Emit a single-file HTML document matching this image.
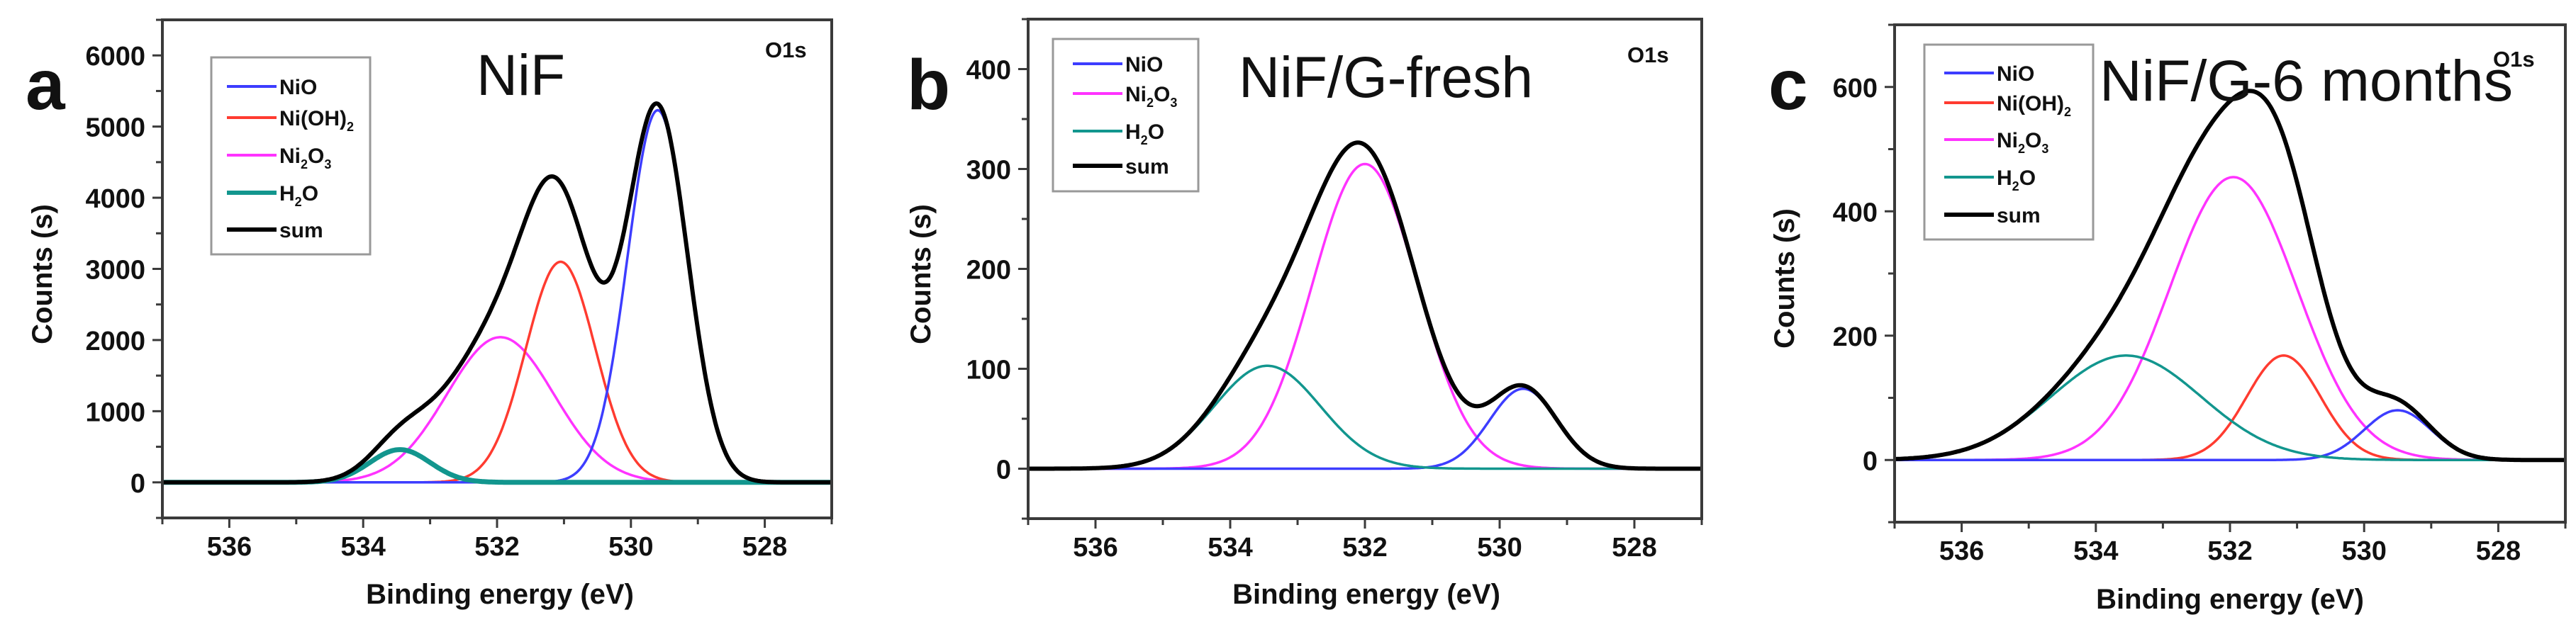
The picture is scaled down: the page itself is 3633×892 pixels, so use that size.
<!DOCTYPE html>
<html><head><meta charset="utf-8"><style>
html,body{margin:0;padding:0;background:#fff;}
svg{display:block;}
text{font-family:"Liberation Sans",Arial,sans-serif;}
</style></head>
<body>
<svg id="fig" width="3633" height="892" viewBox="0 0 3633 892" xmlns="http://www.w3.org/2000/svg"></svg>
<script>
// ---- data: fitted peak parameters (center eV, amplitude counts, sigma eV) ----
const xTicks = [536, 534, 532, 530, 528];
// Panel a (NiF)
const aNames = ["NiO", "Ni(OH)2", "Ni2O3", "H2O"];
const aCenters = [529.6, 531.05, 531.95, 533.45];
const aAmps = [5230, 3100, 2040, 460];
const aSigmas = [0.45, 0.52, 0.8, 0.45];
const aYTicks = [0, 1000, 2000, 3000, 4000, 5000, 6000];
// Panel b (NiF/G-fresh)
const bNames = ["NiO", "Ni2O3", "H2O"];
const bCenters = [529.65, 532.0, 533.45];
const bAmps = [80, 305, 103];
const bSigmas = [0.5, 0.78, 0.79];
const bYTicks = [0, 100, 200, 300, 400];
// Panel c (NiF/G-6 months)
const cNames = ["NiO", "Ni(OH)2", "Ni2O3", "H2O"];
const cCenters = [529.5, 531.2, 531.95, 533.55];
const cAmps = [80, 168, 455, 168];
const cSigmas = [0.5, 0.55, 0.95, 1.12];
const cYTicks = [0, 200, 400, 600];

const NS = "http://www.w3.org/2000/svg";
const svg = document.getElementById("fig");
const COLORS = {"NiO":"#3d3dff","Ni(OH)2":"#ff3b30","Ni2O3":"#ff33ff","H2O":"#12968e","sum":"#000"};
function mk(tag, attrs, parent){const e=document.createElementNS(NS,tag);for(const k in attrs)e.setAttribute(k,attrs[k]);(parent||svg).appendChild(e);return e;}
function label(parent,name,x,y,size,weight,anchor){
  const t=mk("text",{x:x,y:y,"font-size":size,"font-weight":weight,"text-anchor":anchor||"start",fill:"#111"},parent);
  if(name==="Ni2O3"){t.innerHTML='Ni<tspan font-size="'+size*0.6+'" dy="8">2</tspan><tspan dy="-8">O</tspan><tspan font-size="'+size*0.6+'" dy="8">3</tspan>';}
  else if(name==="Ni(OH)2"){t.innerHTML='Ni(OH)<tspan font-size="'+size*0.6+'" dy="8">2</tspan>';}
  else if(name==="H2O"){t.innerHTML='H<tspan font-size="'+size*0.6+'" dy="8">2</tspan><tspan dy="-8">O</tspan>';}
  else t.textContent=name;
  return t;
}
function panel(cfg){
  const g=mk("g",{});
  
  
  const {L,R,T,B,ymin,ymax}=cfg;
  const sx=v=>L+(537-v)/(537-527)*(R-L);
  const sy=v=>B-(v-ymin)/(ymax-ymin)*(B-T);
  const xs=[];for(let e=537;e>=527-1e-9;e-=0.02)xs.push(e);
  const comp=(i,e)=>cfg.amps[i]*Math.exp(-Math.pow(e-cfg.centers[i],2)/(2*cfg.sigmas[i]*cfg.sigmas[i]));
  const clip=mk("clipPath",{id:"clip"+cfg.id},g);mk("rect",{x:L,y:T,width:R-L,height:B-T},clip);
  const cg=mk("g",{"clip-path":"url(#clip"+cfg.id+")"},g);
  cfg.drawOrder.forEach(i=>{
    const d=xs.map((e,k)=>(k?"L":"M")+sx(e).toFixed(1)+" "+sy(comp(i,e)).toFixed(1)).join("");
    const p=mk("path",{d:d,fill:"none",stroke:COLORS[cfg.names[i]],"stroke-width":(cfg.id==="a"&&cfg.names[i]==="H2O")?7:3.5},cg);
    
    
  });
  const ds=xs.map((e,k)=>{let s=0;for(let i=0;i<cfg.names.length;i++)s+=comp(i,e);return (k?"L":"M")+sx(e).toFixed(1)+" "+sy(s).toFixed(1);}).join("");
  const ps=mk("path",{d:ds,fill:"none",stroke:"#000","stroke-width":6,"stroke-linejoin":"round"},cg);
  
  
  const fr=mk("rect",{x:L,y:T,width:R-L,height:B-T,fill:"none",stroke:"#3a3a3a","stroke-width":4},g);
  
  
  for(let e=537;e>=527;e--){
    const major=e%2===0;
    mk("line",{x1:sx(e),x2:sx(e),y1:B,y2:B+(major?14:9),stroke:"#3a3a3a","stroke-width":3},g);
  }
  xTicks.forEach(v=>{
    const t=mk("text",{x:sx(v),y:B+53,"font-size":38,"font-weight":"bold","text-anchor":"middle",fill:"#111"},g);
    t.textContent=v;
    
    
  });
  const st=cfg.yTicks[1]-cfg.yTicks[0];
  for(let v=ymin;v<=ymax+1e-9;v+=st/2){
    const major=Math.abs((v/st)-Math.round(v/st))<1e-6;
    mk("line",{x1:L,x2:L-(major?14:9),y1:sy(v),y2:sy(v),stroke:"#3a3a3a","stroke-width":3},g);
  }
  cfg.yTicks.forEach(v=>{
    const t=mk("text",{x:L-24,y:sy(v)+14,"font-size":38,"font-weight":"bold","text-anchor":"end",fill:"#111"},g);
    t.textContent=v;
    
    
  });
  const xt=mk("text",{x:cfg.xtX,y:cfg.xtY,"font-size":40,"font-weight":"bold","text-anchor":"middle",fill:"#111"},g);
  xt.textContent="Binding energy (eV)";
  
  
  const yt=mk("text",{x:0,y:0,"font-size":40,"font-weight":"bold","text-anchor":"middle",fill:"#111",transform:"translate("+(cfg.ytX+14)+","+cfg.ytY+") rotate(-90)"},g);
  yt.textContent="Counts (s)";
  
  
  const lt=mk("text",{x:cfg.letX,y:154,"font-size":100,"font-weight":"bold",fill:"#111"},g);
  lt.textContent=cfg.id;
  
  
  const tt=mk("text",{x:cfg.ttX,y:cfg.ttY,"font-size":82,fill:"#111",textLength:cfg.ttW,lengthAdjust:"spacingAndGlyphs"},g);
  tt.textContent=cfg.title;
  
  
  const ot=mk("text",{x:cfg.oX,y:cfg.oY,"font-size":31,"font-weight":"bold",fill:"#111"},g);
  ot.textContent="O1s";
  
  
  const lg=mk("g",{},g);
  
  
  const lgd=cfg.legend;
  mk("rect",{x:lgd.x,y:lgd.y,width:lgd.w,height:lgd.h,fill:"#fff",stroke:"#999","stroke-width":3},lg);
  const entries=cfg.names.concat(["sum"]);
  entries.forEach((n,k)=>{
    const y=lgd.ys[k];
    const eg=mk("g",{},lg);
    
    
    mk("line",{x1:lgd.lx,x2:lgd.lx+70,y1:y,y2:y,stroke:COLORS[n],"stroke-width":(n==="sum"||(cfg.id==="a"&&n==="H2O"))?6:4},eg);
    label(eg,n,lgd.lx+74,y+11,30,"bold");
  });
}
panel({id:"a",L:229,R:1173,T:28,B:731,ymin:-500,ymax:6500,names:aNames,centers:aCenters,amps:aAmps,sigmas:aSigmas,yTicks:aYTicks,drawOrder:[2,1,0,3],
  xtX:705,xtY:852,ytX:59,ytY:387,letX:36,title:"NiF",ttX:672,ttY:134,ttW:125,oX:1079,oY:81,
  legend:{x:298,y:81,w:224,h:278,lx:320,ys:[122,166,219,272,324]}});
panel({id:"b",L:1450,R:2400,T:27,B:732,ymin:-50,ymax:450,names:bNames,centers:bCenters,amps:bAmps,sigmas:bSigmas,yTicks:bYTicks,drawOrder:[1,0,2],
  xtX:1927,xtY:852,ytX:1298,ytY:387,letX:1279,title:"NiF/G-fresh",ttX:1747,ttY:137,ttW:415,oX:2295,oY:88,
  legend:{x:1485,y:55,w:205,h:215,lx:1513,ys:[90,132,185,234]}});
panel({id:"c",L:2672,R:3618,T:35,B:737,ymin:-100,ymax:700,names:cNames,centers:cCenters,amps:cAmps,sigmas:cSigmas,yTicks:cYTicks,drawOrder:[2,1,0,3],
  xtX:3145,xtY:859,ytX:2516,ytY:393,letX:2494,title:"NiF/G-6 months",ttX:2961,ttY:142,ttW:583,oX:3516,oY:94,
  legend:{x:2714,y:63,w:238,h:275,lx:2742,ys:[103,145,197,250,303]}});
</script>
</body></html>
